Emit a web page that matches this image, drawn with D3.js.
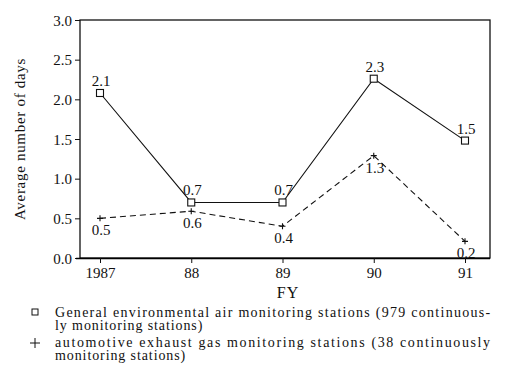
<!DOCTYPE html>
<html><head><meta charset="utf-8">
<script src="https://cdn.jsdelivr.net/npm/d3@7"></script>
<style>body{margin:0;background:#fff}svg{display:block}text{font-family:"Liberation Serif",serif;fill:#111}</style>
</head><body><svg id="c" width="518" height="383"></svg>
<script>
const years = ["1987","88","89","90","91"];
const generalVals = [2.08, 0.7, 0.7, 2.26, 1.48];
const generalLabels = ["2.1","0.7","0.7","2.3","1.5"];
const autoVals = [0.5, 0.59, 0.4, 1.29, 0.21];
const autoLabels = ["0.5","0.6","0.4","1.3","0.2"];
const yTicks = [0,0.5,1.0,1.5,2.0,2.5,3.0];
const legendText = [
  ["General environmental air monitoring stations (979 continuous-","ly monitoring stations)"],
  ["automotive exhaust gas monitoring stations (38 continuously","monitoring stations)"]
];

const svg = d3.select("#c");
const L=80,R=490,T=20,B=258;
const x = d3.scalePoint().domain(years).range([100,465]);
const y = d3.scaleLinear().domain([0,3]).range([B,T]);
const FF = '"Liberation Serif", serif';

svg.append("rect").attr("x",L).attr("y",T).attr("width",R-L).attr("height",B-T).attr("fill","none").attr("stroke","#111").attr("stroke-width",1.3);

const ya = svg.append("g").attr("transform",`translate(${L},0)`)
  .call(d3.axisLeft(y).tickValues(yTicks).tickFormat(d3.format(".1f")).tickSize(5).tickPadding(3));
ya.select(".domain").remove();
ya.selectAll("text").style("font-size","15px").style("font-family",FF).attr("dy","0.35em");
const xa = svg.append("g").attr("transform",`translate(0,${B})`)
  .call(d3.axisBottom(x).tickSize(5).tickPadding(4));
xa.select(".domain").attr("d",`M${L-4},0.5H${R}`).attr("stroke-width",1.3);
xa.selectAll("text").style("font-size","15px").style("font-family",FF);
svg.selectAll(".tick line").attr("stroke","#111");

svg.append("text").attr("transform","translate(25,139) rotate(-90)").attr("text-anchor","middle").style("font-size","15px").style("letter-spacing","0.7px").text("Average number of days");
svg.append("text").attr("x",288).attr("y",298).attr("text-anchor","middle").style("font-size","16px").style("letter-spacing","1px").text("FY");

const line = d3.line().x((d,i)=>x(years[i])).y(d=>y(d));
svg.append("path").datum(generalVals).attr("d",line).attr("fill","none").attr("stroke","#111").attr("stroke-width",1.1);
svg.append("path").datum(autoVals).attr("d",line).attr("fill","none").attr("stroke","#111").attr("stroke-width",1.1).attr("stroke-dasharray","6,4");

svg.selectAll(".sq").data(generalVals).join("rect").attr("x",(d,i)=>x(years[i])-3.5).attr("y",d=>y(d)-3.5).attr("width",7).attr("height",7).attr("fill","#fff").attr("stroke","#111").attr("stroke-width",1.1);
svg.selectAll(".pl").data(autoVals).join("path").attr("d",(d,i)=>{const cx=x(years[i]),cy=y(d);return `M${cx-3},${cy}H${cx+3}M${cx},${cy-3}V${cy+3}`;}).attr("stroke","#111").attr("stroke-width",1.1);

svg.selectAll(".gl").data(generalVals).join("text").attr("x",(d,i)=>x(years[i])+1).attr("y",d=>y(d)-7).attr("text-anchor","middle").style("font-size","15px").text((d,i)=>generalLabels[i]);
svg.selectAll(".al").data(autoVals).join("text").attr("x",(d,i)=>x(years[i])+1).attr("y",d=>y(d)+17).attr("text-anchor","middle").style("font-size","15px").text((d,i)=>autoLabels[i]);

// legend
svg.append("rect").attr("x",32).attr("y",309).attr("width",6).attr("height",6).attr("fill","#fff").attr("stroke","#111");
svg.append("path").attr("d","M30,343H40M35,338V348").attr("stroke","#111").attr("stroke-width",1);
const ly=[317,347];
legendText.forEach((lines,k)=>{
  lines.forEach((t,j)=>{
    const tx = svg.append("text").attr("x",55).attr("y",ly[k]+j*13).style("font-size","14px").style("letter-spacing","0.9px").text(t);
    if(j===0) tx.attr("textLength",436).attr("lengthAdjust","spacing");
  });
});
</script></body></html>
